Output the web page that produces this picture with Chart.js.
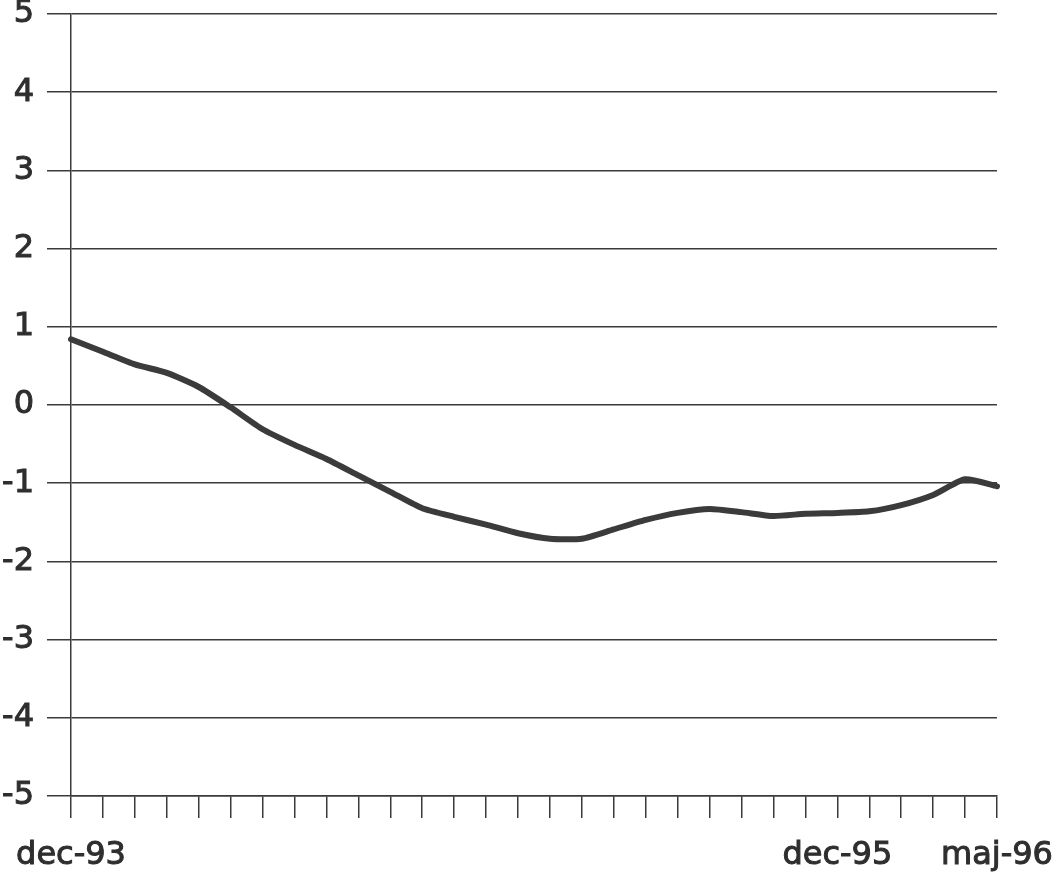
<!DOCTYPE html>
<html>
<head>
<meta charset="utf-8">
<script src="https://cdn.jsdelivr.net/npm/chart.js@4"></script>
<style>
  html, body { margin: 0; padding: 0; background: #ffffff; }
  #wrap { width: 1057px; height: 878px; }
</style>
</head>
<body>
<div id="wrap"><canvas id="c" width="1057" height="878"></canvas></div>
<script>
const months = ["dec-93","jan-94","feb-94","mar-94","apr-94","maj-94","jun-94","jul-94","aug-94","sep-94","okt-94","nov-94",
  "dec-94","jan-95","feb-95","mar-95","apr-95","maj-95","jun-95","jul-95","aug-95","sep-95","okt-95","nov-95",
  "dec-95","jan-96","feb-96","mar-96","apr-96","maj-96"];
const shownLabels = ["dec-93","dec-95","maj-96"];
const values = [0.84, 0.68, 0.52, 0.41, 0.23, -0.03, -0.31, -0.51, -0.69, -0.90, -1.11, -1.32,
  -1.43, -1.53, -1.64, -1.71, -1.71, -1.59, -1.47, -1.38, -1.33, -1.37, -1.42, -1.39,
  -1.38, -1.36, -1.28, -1.15, -0.95, -1.04];
const yTicks = [5, 4, 3, 2, 1, 0, -1, -2, -3, -4, -5];

const textColor = "#2e2e2e";
const gridColor = "#3a3a3a";
const fontSpec = { family: "'DejaVu Sans', 'Liberation Sans', Arial, sans-serif", size: 32 };

function zeroPad(s) { s.paddingTop = 0; s.paddingBottom = 0; s.paddingLeft = 0; s.paddingRight = 0; }

new Chart(document.getElementById("c"), {
  type: "line",
  data: {
    labels: months,
    datasets: [{
      data: values,
      borderColor: "#3b3b3b",
      borderWidth: 6,
      pointRadius: 0,
      tension: 0.2,
      fill: false,
      borderCapStyle: "round",
      borderJoinStyle: "round"
    }]
  },
  options: {
    responsive: false,
    animation: false,
    layout: { padding: { top: 14, right: 60, left: 0, bottom: 0 } },
    plugins: { legend: { display: false }, tooltip: { enabled: false } },
    scales: {
      x: {
        offset: false,
        grid: {
          drawOnChartArea: false,
          drawTicks: true,
          tickLength: 22,
          color: gridColor,
          lineWidth: 1.5
        },
        border: { display: true, color: gridColor, width: 1.5 },
        ticks: {
          autoSkip: false,
          maxRotation: 0,
          minRotation: 0,
          padding: 18,
          color: textColor,
          textStrokeColor: textColor,
          textStrokeWidth: 1,
          font: fontSpec,
          callback: function(v, i) {
            const l = months[i];
            return shownLabels.includes(l) ? l : "";
          }
        },
        afterFit: function(s) { s.height = 82; zeroPad(s); }
      },
      y: {
        min: -5,
        max: 5,
        afterBuildTicks: function(s) { s.ticks = yTicks.map(v => ({ value: v })); },
        grid: {
          drawOnChartArea: true,
          drawTicks: true,
          tickLength: 24,
          color: gridColor,
          lineWidth: 1.5
        },
        border: { display: true, color: gridColor, width: 1.5 },
        ticks: {
          padding: 13,
          color: textColor,
          textStrokeColor: textColor,
          textStrokeWidth: 1,
          font: fontSpec
        },
        afterFit: function(s) { s.width = 71; zeroPad(s); }
      }
    }
  }
});
</script>
</body>
</html>
